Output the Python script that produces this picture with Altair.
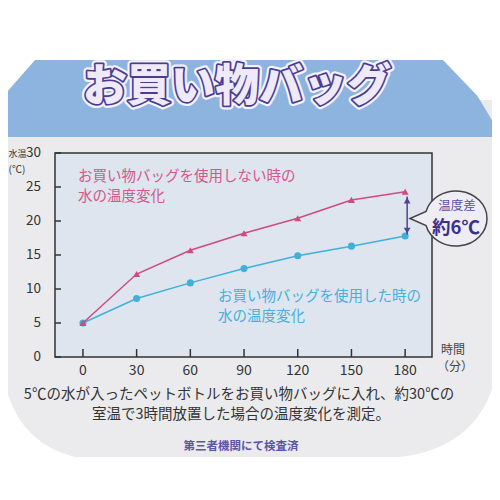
import altair as alt
import pandas as pd

# ---------------- data ----------------
minutes = [0, 30, 60, 90, 120, 150, 180]
temp_without_bag = [5.0, 12.2, 15.7, 18.2, 20.4, 23.1, 24.3]
temp_with_bag = [5.0, 8.6, 10.9, 13.0, 14.9, 16.3, 17.8]
x_ticks = [0, 30, 60, 90, 120, 150, 180]
y_ticks = [0, 5, 10, 15, 20, 25, 30]
arrow_top = [23.6]
arrow_bottom = [18.0]
arrow_minute = [180]

title_text = "お買い物バッグ"
label_without = ["お買い物バッグを使用しない時の", "水の温度変化"]
label_with = ["お買い物バッグを使用した時の", "水の温度変化"]
y_title = ["水温", "(℃)"]
x_title = ["時間", "（分）"]
bubble_text = ["温度差", "約6℃"]
note_lines = ["5℃の水が入ったペットボトルをお買い物バッグに入れ、約30℃の",
              "室温で3時間放置した場合の温度変化を測定。"]
footer_text = "第三者機関にて検査済"

# ---------------- style ----------------
FONT = "Noto Sans CJK JP"
W, H = 377, 204
PINK = "#cf4a80"
PINK_TXT = "#d4568a"
BLUE = "#40b0d9"
BLUE_TXT = "#45b0dd"
PURPLE = "#4f4398"
DARK = "#333333"

xscale = alt.Scale(domain=[-15.6, 195], nice=False, zero=False)
yscale = alt.Scale(domain=[0, 30], nice=False, zero=False)


def one():
    return alt.Chart(alt.Data(values=[{}]))


def text_layer(txt, x, y, size, color, weight="normal", align="center"):
    return one().mark_text(text=txt, font=FONT, fontSize=size, color=color,
                           fontWeight=weight, align=align, baseline="middle").encode(
        x=alt.value(x), y=alt.value(y))


# background decorations
body_path = "M -1,-0.8 L 1,-0.8 L 1,0.18 Q 0.98,0.58 0.6,0.628 L -0.7,0.628 Q -0.98,0.56 -1,0.2 Z"
body = one().mark_point(shape=body_path, filled=True, fill="#ebebed", opacity=1,
                        strokeWidth=0, size=250000).encode(x=alt.value(195), y=alt.value(147))

band_path = "M -0.86,-0.154 L 0.772,-0.154 L 0.91,-0.01 L 1,0.14 L 1,0.154 L -1,0.154 L -1,0.006 Z"
band = one().mark_point(shape=band_path, filled=True, fill="#8db4de", opacity=1,
                        strokeWidth=0, size=250000).encode(x=alt.value(195), y=alt.value(-54.5))

title_base = dict(text=title_text, font=FONT, fontSize=44, fontWeight=900,
                  align="center", baseline="middle")
title_white = one().mark_text(**title_base, stroke="#f4f2fa", strokeWidth=8, color="#f4f2fa",
                              strokeJoin="round").encode(x=alt.value(182), y=alt.value(-65))
title_purple = one().mark_text(**title_base, stroke="#4a3c94", strokeWidth=3.5, color="#4a3c94",
                               strokeJoin="round").encode(x=alt.value(182), y=alt.value(-65))
title_fill = one().mark_text(**title_base, color="#eeeaf8").encode(x=alt.value(182), y=alt.value(-65))

frame = one().mark_rect(fill="#dee5ee", stroke=DARK, strokeWidth=1.5).encode(
    x=alt.value(0), x2=alt.value(W), y=alt.value(0), y2=alt.value(H))

# axis ticks (inward) and tick labels
df_yt = pd.DataFrame({"v": y_ticks})
df_xt = pd.DataFrame({"m": x_ticks})
ytick_rules = alt.Chart(df_yt).mark_rule(color=DARK, strokeWidth=1.5).encode(
    y=alt.Y("v:Q", scale=yscale, axis=None), x=alt.value(0), x2=alt.value(6))
xtick_rules = alt.Chart(df_xt).mark_rule(color=DARK, strokeWidth=1.5).encode(
    x=alt.X("m:Q", scale=xscale, axis=None), y=alt.value(H), y2=alt.value(H - 8))
ytick_labels = alt.Chart(df_yt).mark_text(font=FONT, fontSize=13.5, color=DARK, align="right",
                                          baseline="middle").encode(
    y=alt.Y("v:Q", scale=yscale, axis=None), x=alt.value(-14), text="v:Q")
xtick_labels = alt.Chart(df_xt).mark_text(font=FONT, fontSize=14, color=DARK, align="center",
                                          baseline="middle").encode(
    x=alt.X("m:Q", scale=xscale, axis=None), y=alt.value(H + 14), text="m:Q")

# data series
df_without = pd.DataFrame({"minutes": minutes, "temp": temp_without_bag})
df_with = pd.DataFrame({"minutes": minutes, "temp": temp_with_bag})

enc = dict(x=alt.X("minutes:Q", scale=xscale, axis=None),
           y=alt.Y("temp:Q", scale=yscale, axis=None))

line_with = alt.Chart(df_with).mark_line(color=BLUE, strokeWidth=1.5).encode(**enc)
pts_with = alt.Chart(df_with).mark_point(shape="circle", filled=True, color=BLUE, size=50,
                                         opacity=1).encode(**enc)
line_without = alt.Chart(df_without).mark_line(color=PINK, strokeWidth=1.5).encode(**enc)
pts_without = alt.Chart(df_without).mark_point(shape="triangle-up", filled=True, color=PINK, size=50,
                                               opacity=1).encode(**enc)

# difference arrow
df_arrow = pd.DataFrame({"m": arrow_minute, "top": arrow_top, "bottom": arrow_bottom})
arrow_line = alt.Chart(df_arrow).mark_rule(color=PURPLE, strokeWidth=1.5, xOffset=2).encode(
    x=alt.X("m:Q", scale=xscale, axis=None),
    y=alt.Y("top:Q", scale=yscale, axis=None), y2="bottom:Q")
arrow_up = alt.Chart(df_arrow).mark_point(shape="triangle-up", filled=True, color=PURPLE, size=45,
                                          opacity=1, xOffset=2, yOffset=4).encode(
    x=alt.X("m:Q", scale=xscale, axis=None),
    y=alt.Y("top:Q", scale=yscale, axis=None))
arrow_down = alt.Chart(df_arrow).mark_point(shape="triangle-down", filled=True, color=PURPLE, size=45,
                                            opacity=1, xOffset=2, yOffset=-4).encode(
    x=alt.X("m:Q", scale=xscale, axis=None),
    y=alt.Y("bottom:Q", scale=yscale, axis=None))

# speech bubble
bubble_path = "M -0.5996,-0.14 A 0.62 0.55 0 1 1 -0.5996 0.14 L -0.92 0 Z"
bubble = one().mark_point(shape=bubble_path, filled=True, fill="#eeedf3", stroke="#444444",
                          strokeWidth=1.5, opacity=1, size=10000).encode(
    x=alt.value(401), y=alt.value(65.5))

layers = [
    body, band, title_white, title_purple, title_fill, frame,
    text_layer(label_without[0], 23, 23.7, 14.5, PINK_TXT, align="left"),
    text_layer(label_without[1], 23, 43.7, 14.5, PINK_TXT, align="left"),
    text_layer(label_with[0], 163, 143.7, 14.5, BLUE_TXT, align="left"),
    text_layer(label_with[1], 163, 163.7, 14.5, BLUE_TXT, align="left"),
    ytick_rules, xtick_rules, ytick_labels, xtick_labels,
    line_with, pts_with, line_without, pts_without,
    arrow_line, arrow_up, arrow_down,
    bubble,
    text_layer(bubble_text[0], 402, 53, 12.5, "#5a4ea6"),
    text_layer(bubble_text[1], 401, 75, 18.5, "#3d2f8a", weight="bold"),
    text_layer(y_title[0], -46.5, 1, 9, DARK, align="left"),
    text_layer(y_title[1], -46.5, 17, 10, DARK, align="left"),
    text_layer(x_title[0], 398, 197, 12, "#444444"),
    text_layer(x_title[1], 400, 214, 12, "#444444"),
    text_layer(note_lines[0], 184, 242, 14.5, DARK),
    text_layer(note_lines[1], 186, 262, 14.5, DARK),
    text_layer(footer_text, 186, 294, 11.5, "#5b55a8", weight="bold"),
]

chart = alt.layer(*layers).properties(
    width=W, height=H,
    padding={"left": 47, "top": 145, "right": 60, "bottom": 135},
    autosize=alt.AutoSizeParams(type="none"),
    background="#ffffff",
).configure_view(stroke=None)

chart.save("out.html", embed_options={"renderer": "svg", "actions": False})
